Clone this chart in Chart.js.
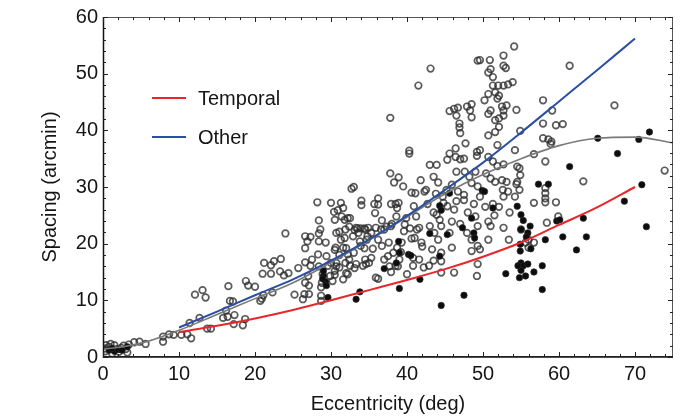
<!DOCTYPE html>
<html><head><meta charset="utf-8">
<script src="https://cdn.jsdelivr.net/npm/chart.js@4.4.1/dist/chart.umd.min.js"></script>
<style>html,body{margin:0;padding:0;background:#fff}#wrap{width:681px;height:418px}</style>
</head><body><div id="wrap"><canvas id="c" width="681" height="418"></canvas></div>
<script>
// ---- Data ----
const xTickLabels = [0, 10, 20, 30, 40, 50, 60, 70];
const yTickLabels = [0, 10, 20, 30, 40, 50, 60];
const xTitle = 'Eccentricity (deg)';
const yTitle = 'Spacing (arcmin)';
const seriesNames = ['Temporal', 'Other'];

// fitted curves
const fitEcc = [10, 15, 20, 25, 30, 35, 40, 45, 50, 55, 60, 65, 70];
const temporalFit = [4.4, 5.5, 6.8, 8.3, 10.0, 11.8, 13.6, 15.5, 17.7, 20.2, 23.3, 26.4, 30.0];
const otherFit = [5.2, 8.0, 10.9, 13.7, 17.0, 20.7, 24.9, 29.5, 34.3, 39.6, 45.1, 50.6, 56.2];
const overallEcc = [0, 3, 6, 10, 15, 20, 25, 30, 35, 40, 45, 50, 55, 60, 65, 70, 75];
const overallFit = [1.4, 1.9, 2.8, 4.7, 7.5, 10.3, 13.1, 16.7, 20.6, 24.7, 28.8, 32.2, 35.0, 37.3, 38.6, 38.8, 37.8];

// open circles (eccentricity, spacing)
const openCircles = [
 [0.2,1.5],[0.4,2.1],[0.3,1.0],[0.8,1.8],[1.0,2.3],[1.2,0.6],[1.5,2.1],[1.8,1.4],[2.1,0.9],[2.4,1.6],[2.7,2.0],[3.0,1.4],[3.2,0.8],[3.4,2.2],[4.1,2.6],[4.8,2.7],[5.6,2.3],[7.9,2.7],[7.9,3.6],[8.7,4.0],[9.3,3.9],[10.3,3.9],[11.1,4.0],[11.6,3.3],
 [11.4,6.0],[12.7,6.9],[13.7,5.0],[14.2,5.0],[12.1,11.0],[13.1,11.8],[13.5,10.5],[15.8,6.9],[16.2,8.2],[16.5,12.5],[16.7,9.9],[17.1,9.8],[17.3,7.4],[17.2,5.8],[16.4,7.1],[18.4,5.6],[18.7,6.7],[18.8,13.4],[19.1,12.6],[20.0,12.4],[20.9,10.3],[21.1,10.9],[20.7,9.9],
 [21.2,16.6],[22.5,16.9],[23.4,17.3],[22.1,16.2],[21.0,14.7],[22.1,14.7],[23.3,15.1],[23.8,14.4],[22.3,11.4],[24.0,21.8],[24.4,14.8],
 [25.2,11.0],[25.7,15.7],[26.3,10.2],[26.6,13.1],[26.6,16.7],[26.6,19.2],[26.6,21.3],[26.9,20.4],[27.0,14.3],[27.1,11.1],[27.1,12.6],[27.3,21.2],[27.3,16.1],[27.5,17.2],[28.2,27.3],[28.4,24.1],[28.4,21.8],[28.4,20.4],[28.3,18.1],[28.4,16.0],[28.8,13.1],[28.7,12.3],[28.7,10.8],[28.7,9.9],[28.9,14.6],[29.3,20.2],[29.4,17.8],[29.6,16.1],[29.9,14.3],[28.6,22.5],[26.5,11.1],
 [30.0,27.2],[30.4,25.6],[30.9,25.9],[31.3,27.2],[31.6,26.3],[31.4,24.8],[30.5,24.2],[31.8,24.2],[32.2,24.5],[32.5,24.5],[32.4,23.0],[33.0,30.0],[31.1,22.1],[31.8,21.0],[31.9,22.5],[33.3,22.8],[33.6,21.9],[32.9,21.3],[30.7,21.9],[31.3,20.7],[30.5,18.9],[31.1,18.0],[32.0,19.2],[30.6,19.3],[31.6,19.3],[32.2,18.1],[33.0,18.4],[32.4,17.2],[30.0,16.6],[30.7,16.0],[30.7,16.6],[31.1,15.8],[31.9,16.6],[32.5,16.1],[33.3,16.4],[32.2,14.6],[32.0,14.8],[31.6,13.7],[30.5,14.5],[30.5,15.2],[30.2,13.4],[33.1,22.4],[33.5,22.7],[33.9,22.7],[34.4,22.7],[34.0,26.8],[34.0,27.6],[32.7,29.7],[34.8,21.3],[33.8,20.4],[34.4,19.2],[33.9,19.6],[34.5,17.2],[34.2,16.1],[34.6,16.4],[33.1,15.7],[34.7,20.7],[34.9,22.8],[34.5,22.5],
 [35.3,21.9],[35.9,22.8],[36.2,26.9],[35.8,25.4],[35.7,27.0],[36.2,28.0],[36.7,24.1],[37.0,22.5],[37.8,42.2],[37.8,32.4],[38.3,30.8],[38.9,31.7],[39.5,30.1],[37.9,27.0],[38.5,27.0],[38.7,26.3],[38.9,27.2],[35.5,19.1],[36.2,20.7],[37.0,17.2],[36.7,19.6],[36.2,13.8],[35.9,14.0],[35.3,17.5],[35.0,16.6],[37.9,15.0],[38.2,18.4],[38.5,16.1],[39.0,17.2],[39.3,20.2],[39.6,22.2],[39.7,23.4],[39.9,24.5],[38.6,24.8],[37.9,23.1],[37.6,20.2],[38.7,19.3],[37.5,17.8],[38.8,16.0],[37.7,16.0],[36.6,22.5],[37.3,23.0],[38.0,23.5],[39.2,18.5],[40.0,14.6],
 [40.3,36.4],[40.3,35.9],[41.5,47.9],[43.1,50.9],[40.6,29.0],[41.1,28.9],[41.8,31.2],[42.3,29.2],[40.9,26.6],[41.2,24.8],[41.6,22.8],[41.3,22.5],[40.6,20.9],[41.9,20.2],[40.8,17.5],[41.6,17.2],[42.2,15.8],[40.8,16.1],[43.0,33.9],[43.9,33.9],[43.5,31.8],[44.1,30.8],[42.7,27.0],[43.5,25.5],[43.9,25.1],[44.3,24.2],[43.6,21.9],[43.0,23.1],[44.5,23.1],[44.1,20.7],[43.3,19.0],[44.5,18.4],[44.5,16.9],[44.5,14.9],[42.9,16.1],[44.7,28.3],[44.8,27.2],[42.5,29.5],[43.8,28.8],[40.4,22.7],[41.0,21.0],[42.0,19.5],[43.5,17.0],
 [45.6,43.4],[46.2,43.8],[46.5,42.6],[46.7,44.0],[46.9,41.2],[46.9,40.5],[47.0,39.5],[47.9,44.2],[48.5,44.6],[48.3,43.5],[48.5,42.3],[47.7,37.7],[46.4,36.8],[45.6,35.9],[46.4,35.3],[47.0,34.9],[47.5,35.0],[45.3,34.8],[46.5,32.7],[47.6,32.7],[48.2,31.8],[49.0,32.7],[49.2,36.2],[49.6,36.5],[49.2,35.5],[45.9,30.4],[46.7,29.2],[46.5,27.5],[47.5,28.6],[48.5,30.7],[49.3,30.1],[49.6,28.3],[46.2,26.0],[45.9,23.9],[45.6,21.9],[45.9,19.3],[46.2,14.9],[47.9,21.9],[48.5,20.7],[48.5,18.7],[49.0,24.8],[49.3,23.1],[49.3,19.6],[49.6,19.0],[49.3,16.4],[49.2,14.3],[47.5,27.7],[45.3,26.6],[48.0,25.5],[47.0,23.5],[45.2,29.5],[48.8,27.0],
 [49.3,52.3],[49.6,52.4],[50.9,52.4],[51.0,50.8],[50.7,50.2],[52.7,53.2],[52.7,51.4],[53.0,51.0],[54.1,54.8],[51.3,49.4],[51.3,47.9],[52.0,47.9],[52.7,47.9],[53.3,48.1],[53.9,48.5],[50.7,46.4],[51.6,46.7],[52.1,46.1],[51.9,45.6],[50.2,45.3],[51.0,43.5],[50.7,42.9],[52.5,44.2],[53.1,44.4],[52.7,43.5],[52.7,42.6],[52.1,42.1],[51.6,41.8],[52.1,40.6],[51.6,39.7],[50.7,39.1],[54.4,43.6],[51.9,37.4],[50.7,35.3],[51.3,34.5],[51.9,33.7],[52.7,34.0],[50.4,32.4],[51.0,31.5],[51.6,30.9],[52.5,31.2],[53.1,30.9],[52.6,29.5],[53.3,29.2],[52.7,28.3],[51.3,27.0],[52.1,26.5],[50.7,23.9],[51.0,23.1],[50.7,20.7],[52.7,22.8],[53.4,20.7],[54.2,36.5],[54.5,33.6],[54.5,30.9],[54.2,28.3],[54.8,33.3],[54.4,30.5],[51.5,25.0],[53.5,25.5],[50.3,26.5],
 [54.9,39.9],[54.9,32.1],[54.8,29.5],[55.0,22.5],[55.6,20.2],[56.0,19.3],[56.7,35.8],[56.7,27.2],[57.9,45.3],[57.9,41.2],[57.9,38.6],[58.2,34.5],[58.2,29.8],[58.2,28.9],[58.2,28.0],[58.2,27.3],[58.6,38.4],[59.0,38.0],[59.1,43.5],[59.6,40.9],[58.9,37.6],[58.4,23.7],[59.6,27.3],[59.9,24.8],[56.7,20.2],[56.0,20.7],
 [60.5,41.1],[61.4,51.4],[63.2,31.0],[67.3,44.4],[73.9,32.9]
];

// filled dots (eccentricity, spacing)
const filledDots = [
 [0.8,1.2],[1.5,1.0],[2.0,1.3],[2.5,1.2],[3.2,1.8],[1.2,1.5],
 [29.0,14.3],[29.3,13.3],[29.4,12.6],[29.6,10.5],[29.0,15.2],[28.9,13.8],
 [33.3,10.2],[33.8,11.5],
 [37.0,15.6],[38.9,20.4],[39.0,18.4],[39.0,12.1],[40.2,18.1],[38.6,16.6],
 [41.7,13.7],[43.0,21.8],[44.3,26.7],[44.5,25.9],[44.3,17.8],[44.5,9.1],[40.5,17.9],
 [45.6,28.9],[47.3,22.8],[47.5,10.9],[48.5,24.5],[48.8,21.9],[48.9,21.0],[49.9,29.4],[45.3,21.6],
 [50.2,29.2],[51.3,26.3],[53.0,14.7],[54.5,26.6],
 [55.0,25.1],[55.0,22.5],[55.3,24.1],[56.2,23.1],[55.9,21.9],[55.7,21.2],[54.9,19.9],[54.9,18.7],[55.0,16.6],[55.3,16.1],[55.6,14.3],[55.9,16.4],[56.7,15.0],[57.3,30.5],[58.6,30.5],[58.2,20.7],[57.8,16.1],[57.8,11.9],[56.3,19.1],[59.7,24.0],[54.8,14.0],[55.0,15.3],[54.6,16.1],
 [60.1,24.2],[60.5,21.2],[61.4,33.6],[62.3,18.9],[63.2,24.5],[63.6,21.2],[65.1,38.6],[67.7,35.9],[68.6,27.5],[70.5,38.4],[70.9,30.4],[71.5,23.0],[71.9,39.7]
];

const FONT = "'Liberation Sans', Arial, sans-serif";
const TEXT = '#151515';
const colors = { temporal: '#e8262b', other: '#2c4fa3', overall: '#7a7a7a' };

const toXY = (xs, ys) => xs.map((x, i) => ({ x, y: ys[i] }));
const pairs = arr => arr.map(p => ({ x: p[0], y: p[1] }));

const framePlugin = {
  id: 'frame',
  afterDraw(chart) {
    const { ctx, chartArea: a, scales } = chart;
    const xs = scales.x, ys = scales.y;
    ctx.save();
    ctx.strokeStyle = '#555'; ctx.lineWidth = 1;
    ctx.strokeRect(a.left + 0.5, a.top + 0.5, a.right - a.left - 1, a.bottom - a.top - 1);
    ctx.strokeStyle = '#111'; ctx.lineWidth = 1.5;
    ctx.beginPath();
    ctx.moveTo(a.left + 0.5, a.top); ctx.lineTo(a.left + 0.5, a.bottom); ctx.lineTo(a.right, a.bottom);
    ctx.stroke();
    ctx.lineWidth = 1; ctx.strokeStyle = '#222';
    ctx.beginPath();
    for (let v = 0; v <= 75; v += 2) {
      const px = Math.round(xs.getPixelForValue(v)) + 0.5;
      const len = (v % 10 === 0) ? 5 : 3;
      ctx.moveTo(px, a.bottom); ctx.lineTo(px, a.bottom - len);
      ctx.moveTo(px, a.top); ctx.lineTo(px, a.top + len);
    }
    for (let v = 0; v <= 60; v += 2) {
      const py = Math.round(ys.getPixelForValue(v)) + 0.5;
      const len = (v % 10 === 0) ? 5 : 3;
      ctx.moveTo(a.left, py); ctx.lineTo(a.left + len, py);
      ctx.moveTo(a.right, py); ctx.lineTo(a.right - len, py);
    }
    ctx.stroke();
    const lx = a.left + 49, ly1 = a.top + 81, gap = 39;
    [[seriesNames[0], colors.temporal], [seriesNames[1], colors.other]].forEach(([name, col], i) => {
      const y = ly1 + i * gap;
      ctx.strokeStyle = col; ctx.lineWidth = 2;
      ctx.beginPath(); ctx.moveTo(lx, y); ctx.lineTo(lx + 34, y); ctx.stroke();
      ctx.fillStyle = TEXT; ctx.font = '20px ' + FONT; ctx.textBaseline = 'middle'; ctx.textAlign = 'left';
      ctx.fillText(name, lx + 46, y + 1);
    });
    ctx.restore();
  }
};

new Chart(document.getElementById('c'), {
  type: 'scatter',
  data: {
    datasets: [
      { label: seriesNames[0], data: toXY(fitEcc, temporalFit), showLine: true, borderColor: colors.temporal, borderWidth: 2, pointRadius: 0, tension: 0.4, cubicInterpolationMode: 'monotone', order: 0 },
      { label: seriesNames[1], data: toXY(fitEcc, otherFit), showLine: true, borderColor: colors.other, borderWidth: 2, pointRadius: 0, tension: 0.4, cubicInterpolationMode: 'monotone', order: 0 },
      { label: 'All', data: toXY(overallEcc, overallFit), showLine: true, borderColor: colors.overall, borderWidth: 1.6, pointRadius: 0, tension: 0.4, cubicInterpolationMode: 'monotone', order: 0 },
      { label: 'Filled', data: pairs(filledDots), pointRadius: 3.2, pointBackgroundColor: '#0d0d0d', pointBorderColor: 'rgba(40,40,40,0.7)', pointBorderWidth: 1, order: 1 },
      { label: 'Open', data: pairs(openCircles), pointRadius: 3.3, pointBackgroundColor: 'rgba(255,255,255,0)', pointBorderColor: 'rgba(45,45,45,0.78)', pointBorderWidth: 1.7, order: 2 }
    ]
  },
  options: {
    responsive: false, animation: false, devicePixelRatio: 1,
    layout: { padding: { top: 17, right: 8, left: 0, bottom: 0 } },
    plugins: { legend: { display: false }, tooltip: { enabled: false } },
    scales: {
      x: {
        type: 'linear', min: 0, max: 75, position: 'bottom',
        afterBuildTicks: s => { s.ticks = xTickLabels.map(v => ({ value: v })); },
        afterFit: s => { s.height = 61; },
        grid: { display: false, drawTicks: false },
        border: { display: false },
        ticks: { color: TEXT, font: { family: FONT, size: 20 }, padding: 5, maxRotation: 0 },
        title: { display: true, text: xTitle, color: TEXT, font: { family: FONT, size: 20 }, padding: { top: 0, bottom: 2 } }
      },
      y: {
        type: 'linear', min: 0, max: 60,
        afterBuildTicks: s => { s.ticks = yTickLabels.map(v => ({ value: v })); },
        afterFit: s => { s.width = 103; },
        grid: { display: false, drawTicks: false },
        border: { display: false },
        ticks: { color: TEXT, font: { family: FONT, size: 20 }, padding: 5 },
        title: { display: true, text: yTitle, color: TEXT, font: { family: FONT, size: 20 }, padding: { top: 38, bottom: 0 } }
      }
    }
  },
  plugins: [framePlugin]
});
</script>
</body></html>
